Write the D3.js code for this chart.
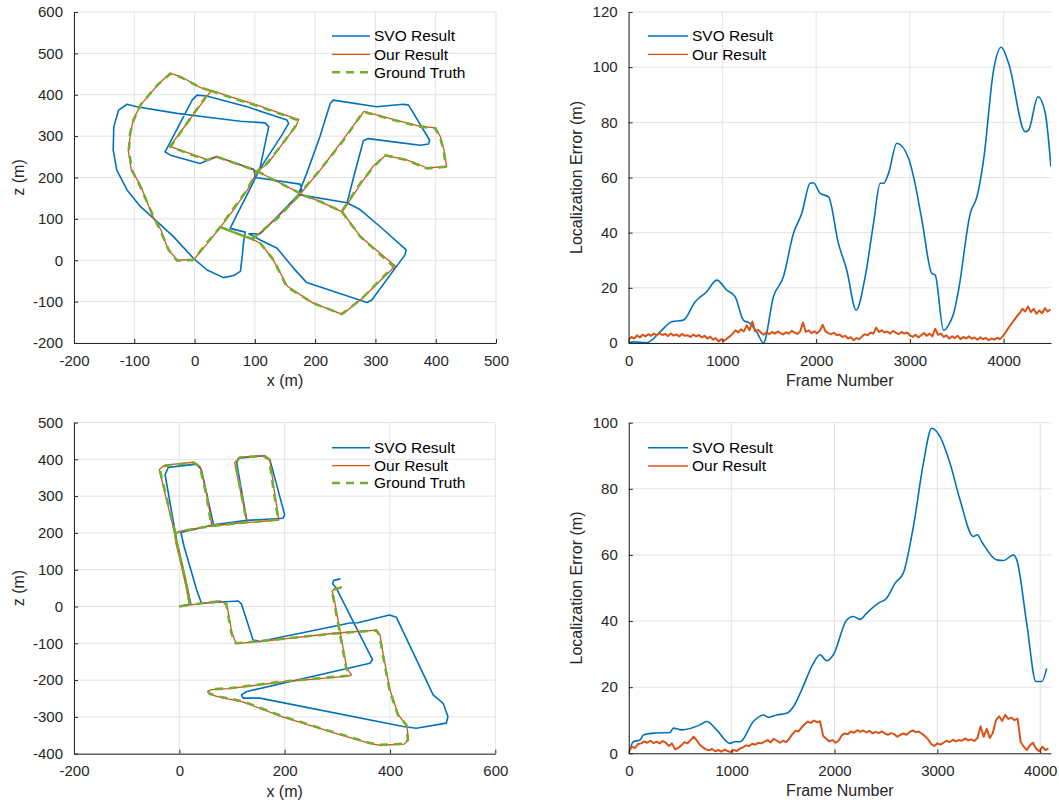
<!DOCTYPE html>
<html lang="en">
<head>
<meta charset="UTF-8">
<title>SVO Result vs Our Result</title>
<script src="https://d3js.org/d3.v7.min.js"></script>
<style>
  body { margin: 0; background: #fff; }
  svg { display: block; font-family: "Liberation Sans", Arial, Helvetica, sans-serif; }
  .grid line { stroke: #e3e3e3; stroke-width: 1; }
  .axis path, .axis line { stroke: #262626; stroke-width: 1; }
  .axis text { fill: #262626; font-size: 15px; font-family: "Liberation Sans", Arial, sans-serif; }
  .label { fill: #262626; font-size: 16px; }
  .legend text { fill: #000; font-size: 15.5px; }
</style>
</head>
<body>
<svg id="chart" width="1059" height="805"></svg>
<script>
// ---- trajectory, top left (x, z in metres) ----
const tlSvo = [
  [103,206],[98,190],[87,158],[73,118],[59,77],[84,68],
  [81,41],[79,9],[76,-27],[65,-37],[48,-42],[20,-23],[-2,5],
  [-35,57],[-68,101],[-90,130],[-112,170],[-129,218],[-135,266],[-134,323],[-126,363],[-112,377],
  [-96,371],[-29,355],[32,344],[76,336],[117,332],[123,323],[117,282],[109,226],[103,206],
  [109,222],[145,303],[156,331],[153,339],[87,371],[20,397],[4,399],
  [-4,387],[-46,270],[-49,262],
  [-40,254],[9,234],[23,242],[37,250],[98,220],[101,200],[175,184],[178,170],[175,163],
  [137,105],[109,64],[90,64],
  [109,49],[137,29],[164,-19],[186,-54],[286,-102],[294,-96],[349,13],[351,25],[308,81],[275,122],[253,139],
  [175,158],[174,166],
  [186,210],[208,299],[225,379],[230,387],[302,371],[346,377],[355,375],[390,290],[388,281],[374,278],
  [330,286],[288,294],[280,289],[264,202],[253,139]
];
const tlOurs = [
  [27,411],[64,393],[110,372],[152,350],[173,340],
  [168,324],[143,276],[121,233],[104,215],
  [88,171],[66,124],[44,82],[21,40],[-1,2],
  [-28,0],[-44,26],[-56,74],[-69,104],[-89,179],[-105,219],[-110,265],[-106,308],[-102,340],[-89,376],
  [-61,424],[-41,452],[-23,444],[10,417],[27,409],
  [-6,344],[-41,275],[21,243],[36,251],[104,215],
  [136,191],[176,161],
  [209,219],[246,291],[281,360],
  [331,340],[373,324],[400,320],[408,298],[414,265],[418,227],[386,223],[351,243],[317,253],[296,227],[276,185],[245,117],
  [207,143],[176,159],
  [136,102],[96,50],[42,81],[71,64],[97,50],
  [110,40],[130,2],[154,-63],[196,-103],[245,-131],[276,-95],[333,-14],[276,56],[245,117]
];
const tlTruth = [
  [26,410],[65,391],[109,371],[153,348],[171,339],
  [167,323],[142,274],[120,234],[103,214],
  [87,170],[65,126],[43,81],[20,41],[-2,1],
  [-29,-1],[-43,25],[-57,73],[-68,105],[-90,178],[-104,218],[-109,266],[-107,307],[-101,339],[-90,375],
  [-62,423],[-40,451],[-24,443],[9,418],[26,410],
  [-7,343],[-40,274],[20,242],[37,250],[103,216],
  [137,190],[175,162],
  [208,218],[247,290],[280,359],
  [330,339],[374,323],[399,319],[407,299],[413,266],[417,226],[385,222],[352,242],[316,254],[297,226],[275,186],[244,118],
  [208,142],[175,160],
  [137,101],[95,51],[43,80],[70,65],[96,51],
  [109,41],[131,1],[153,-64],[197,-104],[244,-130],[275,-96],[330,-15],[275,57],[244,118]
];

// ---- trajectory, bottom left ----
const blSvo = [
  [0,0],[22,7],[13,63],[3,127],[-5,177],[-8,204],
  [-27,358],[-21,378],[33,387],[42,371],[65,222],
  [128,234],
  [109,390],[112,403],[162,410],[172,399],[200,249],[197,240],
  [128,234],[65,222],[3,201],
  [4,195],[9,163],[33,45],[42,9],
  [112,15],[118,7],[140,-91],[153,-95],[324,-45],[339,-44],[399,-23],[412,-29],[482,-240],[501,-263],
  [510,-299],[507,-317],[450,-331],[425,-326],[153,-249],[121,-249],[118,-240],[128,-231],[362,-154],[367,-145],
  [298,50],[291,62],[293,71],[306,75]
];
const blOurs = [
  [1,1],[21,6],[15,55],[5,117],[-4,173],[-9,200],
  [-38,372],[-28,384],[28,392],[40,379],[53,300],[62,218],
  [129,230],
  [114,327],[105,391],[116,406],[160,410],[172,398],[179,327],[189,235],
  [127,228],[62,220],[2,205],[-9,198],
  [-6,171],[3,117],[13,53],[19,4],
  [78,15],[90,8],[100,-72],[108,-101],[148,-96],[299,-72],[375,-64],[381,-78],[388,-137],[400,-227],
  [416,-295],[432,-323],[435,-363],[427,-374],[379,-377],[361,-372],[297,-345],[196,-300],[120,-259],
  [76,-246],[57,-238],[54,-232],[60,-226],[95,-223],[196,-205],[321,-189],[327,-186],[318,-169],
  [306,-72],[293,28],[290,42],[296,48],[309,53]
];
const blTruth = [
  [0,0],[20,5],[14,54],[4,118],[-5,172],[-8,199],
  [-37,371],[-27,382],[27,391],[39,380],[52,299],[61,219],
  [128,229],
  [115,326],[106,390],[115,405],[159,409],[171,399],[178,326],[188,236],
  [128,229],[61,219],[1,204],[-8,199],
  [-5,172],[4,118],[14,54],[20,5],
  [77,14],[89,7],[99,-73],[107,-100],[147,-95],[298,-73],[374,-65],[380,-77],[387,-136],[399,-226],
  [415,-294],[431,-322],[434,-362],[428,-373],[380,-376],[362,-371],[298,-344],[197,-299],[121,-258],
  [77,-245],[58,-237],[55,-231],[61,-225],[96,-222],[197,-204],[320,-188],[324,-183],[317,-168],
  [305,-73],[292,27],[289,41],[295,47],[308,52]
];

// ---- localization error, top right: [frame, error m] ----
const trSvo = [
  [0,0],[50,0.4],[193,0.1],[335,4],[460,7.7],[584,8.3],[709,14.9],[833,18.6],[940,22.8],[1047,19.2],
  [1136,16.8],[1224,8.3],[1296,7.1],[1367,4],[1438,0],[1545,16.8],[1651,24],[1758,39.7],[1847,47],
  [1936,57.9],[1972,58.1],[2043,54.2],[2132,53],[2238,36.1],[2327,26.4],[2427,11.9],[2523,24],
  [2612,43.4],[2683,57.9],[2719,57.9],[2772,61.5],[2861,72.4],[2986,67],[3039,60.3],[3128,44.6],
  [3234,25.2],[3270,24.6],[3359,4.6],[3412,6.5],[3466,10.7],[3519,19.2],[3644,47],[3715,53],
  [3786,66.4],[3893,99],[3974,107.2],[4053,101.4],[4230,76.6],[4266,77.2],[4366,89.3],[4444,83.3],[4504,63.9]
];
const trOursStep = 30; // frames between samples
const trOurs = [
  1.2,2.2,1.6,2.8,2.0,3.0,2.4,3.2,
  2.6,3.4,2.8,3.6,2.9,3.3,2.5,3.4,2.7,3.1,2.4,3.3,2.6,
  2.8,2.2,3.0,2.4,2.9,2.0,2.6,1.6,2.3,1.2,1.8,0.6,1.4,
  0.8,1.6,2.4,
  3.4,4.6,3.8,5.0,4.2,6.4,4.6,7.8,4.2,4.8,
  3.8,3.0,3.9,3.2,4.0,3.4,4.2,3.6,3.1,3.9,3.4,4.4,3.8,3.3,4.2,
  7.4,
  4.0,4.6,3.6,4.2,3.5,4.4,
  6.6,
  4.2,3.6,3.2,3.7,2.8,3.1,2.2,2.6,1.6,2.1,1.0,1.8,1.4,
  2.4,3.2,2.8,3.8,3.4,5.6,4.0,4.6,3.8,4.2,3.4,4.4,3.8,3.2,4.0,3.4,3.8,2.8,
  2.2,3.0,2.0,2.8,3.6,2.6,3.4,2.4,5.2,3.0,3.4,2.2,2.8,
  1.6,2.4,1.8,2.6,1.4,2.2,1.6,2.4,1.5,2.0,1.2,2.1,1.4,1.8,1.0,1.6,1.2,1.9,1.4,
  2.4,3.8,5.4,6.8,8.2,9.6,10.8,12.4,11.4,13.2,
  11.2,12.4,10.6,11.8,10.8,12.6,11.4,12.2
];

// ---- localization error, bottom right ----
const brSvo = [
  [0,0],[44,3.5],[109,4],[141,5.5],[238,6.1],[400,6.3],[433,7.6],[514,7.1],[692,8.6],[757,9.6],
  [854,7.1],[984,3],[1032,3.5],[1081,3.5],[1211,9.6],[1308,11.6],[1357,10.9],[1438,11.6],[1535,12.1],
  [1600,14.1],[1681,19.2],[1794,27.2],[1859,29.8],[1924,28],[1989,29.8],[2118,40.3],[2183,41.4],
  [2248,40.5],[2313,42.4],[2426,45.4],[2507,46.9],[2588,51.4],[2669,54.5],[2767,68.6],[2864,87.7],
  [2945,98.3],[3026,95.8],[3123,87.7],[3220,76.7],[3350,65.6],[3389,66.1],[3431,64],[3577,58.5],
  [3642,58.3],[3739,60],[3772,58.5],[3869,39.3],[3959,21.7],[4015,21.7],[4063,25.7]
];
const brOursStep = 30;
const brOurs = [
  0.6,2.0,1.6,2.8,
  3.0,3.6,3.2,3.8,3.1,3.5,3.0,3.7,3.2,2.2,3.0,
  1.2,1.6,
  2.4,3.4,3.0,4.0,5.0,4.0,
  2.6,1.8,1.2,0.9,1.3,0.6,1.0,0.5,1.1,0.7,0.4,
  1.0,0.7,1.4,
  1.8,2.4,2.2,2.9,2.6,3.2,3.0,3.5,4.0,3.3,4.4,3.8,3.2,3.8,3.4,4.4,5.8,6.8,6.6,7.8,
  8.8,9.6,9.2,9.9,9.4,9.7,
  5.2,4.4,3.6,4.0,3.2,3.8,
  5.4,6.0,5.8,6.6,6.2,7.0,6.5,6.9,6.3,6.8,6.0,6.5,6.1,6.6,6.0,5.6,6.1,5.8,
  5.0,5.6,6.0,5.6,6.4,6.9,6.4,6.6,5.9,5.2,4.2,
  2.8,2.2,3.0,2.6,
  3.2,3.8,3.4,4.1,3.6,4.0,3.8,4.5,3.9,4.2,3.7,4.6,
  8.2,5.0,7.4,4.6,6.2,
  10.0,11.2,9.8,11.6,10.4,10.8,10.0,10.5,
  3.4,2.0,1.0,2.4,3.2,1.4,0.6,2.0,1.0,1.4
];

// ---- ticks ----
const tlXTicks = d3.range(-200, 501, 100);
const tlYTicks = d3.range(-200, 601, 100);
const blXTicks = d3.range(-200, 601, 200);
const blYTicks = d3.range(-400, 501, 100);
const frameTicks = [0, 1000, 2000, 3000, 4000];
const trYTicks = d3.range(0, 121, 20);
const brYTicks = d3.range(0, 101, 20);

const colors = { svo: "#0072bd", ours: "#d95319", truth: "#77ac30" };
const names = { svo: "SVO Result", ours: "Our Result", truth: "Ground Truth" };

const svg = d3.select("#chart");

function withStep(values, step) {
  return values.map((v, i) => [i * step, v]);
}

function drawPanel(p) {
  const x = d3.scaleLinear().domain(p.xDomain).range([p.left, p.right]);
  const y = d3.scaleLinear().domain(p.yDomain).range([p.bottom, p.top]);
  const g = svg.append("g");

  // grid
  const grid = g.append("g").attr("class", "grid");
  grid.selectAll(".gx").data(p.xTicks).enter().append("line")
    .attr("x1", d => x(d)).attr("x2", d => x(d))
    .attr("y1", p.top).attr("y2", p.bottom);
  grid.selectAll(".gy").data(p.yTicks).enter().append("line")
    .attr("x1", p.left).attr("x2", p.right)
    .attr("y1", d => y(d)).attr("y2", d => y(d));

  // clip
  const clipId = "clip-" + p.id;
  svg.append("clipPath").attr("id", clipId).append("rect")
    .attr("x", p.left).attr("y", p.top - 1)
    .attr("width", p.right - p.left).attr("height", p.bottom - p.top + 1);

  const plot = g.append("g").attr("clip-path", "url(#" + clipId + ")");
  p.series.forEach(s => {
    const line = d3.line()
      .x(d => x(d[0])).y(d => y(d[1]))
      .curve(s.curve || d3.curveLinear);
    plot.append("path")
      .datum(s.data)
      .attr("fill", "none")
      .attr("stroke", colors[s.key])
      .attr("stroke-width", s.width)
      .attr("stroke-linejoin", "round")
      .attr("stroke-dasharray", s.dash || null)
      .attr("d", line);
  });

  // axes
  g.append("g").attr("class", "axis")
    .attr("transform", "translate(0," + p.bottom + ")")
    .call(d3.axisBottom(x).tickValues(p.xTicks).tickFormat(d => String(d))
      .tickSizeInner(-4).tickSizeOuter(0).tickPadding(12));
  g.append("g").attr("class", "axis")
    .attr("transform", "translate(" + p.left + ",0)")
    .call(d3.axisLeft(y).tickValues(p.yTicks).tickFormat(d => String(d))
      .tickSizeInner(-4).tickSizeOuter(0).tickPadding(11));

  // labels
  g.append("text").attr("class", "label")
    .attr("x", (p.left + p.right) / 2).attr("y", p.bottom + 43)
    .attr("text-anchor", "middle").text(p.xLabel);
  const cy = (p.top + p.bottom) / 2;
  g.append("text").attr("class", "label")
    .attr("transform", "translate(" + p.yLabelX + "," + cy + ") rotate(-90)")
    .attr("text-anchor", "middle").text(p.yLabel);

  // legend (no box)
  const lg = g.append("g").attr("class", "legend");
  p.series.forEach((s, i) => {
    const ly = p.legend.ys[i];
    lg.append("line")
      .attr("x1", p.legend.x1).attr("x2", p.legend.x2)
      .attr("y1", ly).attr("y2", ly)
      .attr("stroke", colors[s.key])
      .attr("stroke-width", s.legendWidth || s.width)
      .attr("stroke-dasharray", s.dash || null);
    lg.append("text")
      .attr("x", p.legend.x2 + 4).attr("y", ly).attr("dy", "0.35em")
      .text(names[s.key]);
  });
}

drawPanel({
  id: "tl", left: 74, right: 496, top: 12, bottom: 343,
  xDomain: [-200, 500], yDomain: [-200, 600],
  xTicks: tlXTicks, yTicks: tlYTicks,
  xLabel: "x (m)", yLabel: "z (m)", yLabelX: 24,
  series: [
    { key: "svo", data: tlSvo, width: 1.6 },
    { key: "ours", data: tlOurs, width: 1.3 },
    { key: "truth", data: tlTruth, width: 2.6, dash: "8,6" }
  ],
  legend: { x1: 332, x2: 370, ys: [36, 54.3, 72.3] }
});

drawPanel({
  id: "tr", left: 628.6, right: 1051, top: 12, bottom: 343,
  xDomain: [0, 4505], yDomain: [0, 120],
  xTicks: frameTicks, yTicks: trYTicks,
  xLabel: "Frame Number", yLabel: "Localization Error (m)", yLabelX: 582,
  series: [
    { key: "svo", data: trSvo, width: 1.6, curve: d3.curveMonotoneX },
    { key: "ours", data: withStep(trOurs, trOursStep), width: 2, legendWidth: 1.3 }
  ],
  legend: { x1: 648, x2: 688, ys: [36, 54.3] }
});

drawPanel({
  id: "bl", left: 74, right: 495.3, top: 422.5, bottom: 753.7,
  xDomain: [-200, 600], yDomain: [-400, 500],
  xTicks: blXTicks, yTicks: blYTicks,
  xLabel: "x (m)", yLabel: "z (m)", yLabelX: 24,
  series: [
    { key: "svo", data: blSvo, width: 1.6 },
    { key: "ours", data: blOurs, width: 1.3 },
    { key: "truth", data: blTruth, width: 2.6, dash: "8,6" }
  ],
  legend: { x1: 332, x2: 370, ys: [447.7, 465.7, 483] }
});

drawPanel({
  id: "br", left: 628.8, right: 1051, top: 422.7, bottom: 753.3,
  xDomain: [0, 4105], yDomain: [0, 100],
  xTicks: frameTicks, yTicks: brYTicks,
  xLabel: "Frame Number", yLabel: "Localization Error (m)", yLabelX: 582,
  series: [
    { key: "svo", data: brSvo, width: 1.6, curve: d3.curveMonotoneX },
    { key: "ours", data: withStep(brOurs, brOursStep), width: 2, legendWidth: 1.3 }
  ],
  legend: { x1: 648, x2: 688, ys: [447.7, 466] }
});
</script>
</body>
</html>
